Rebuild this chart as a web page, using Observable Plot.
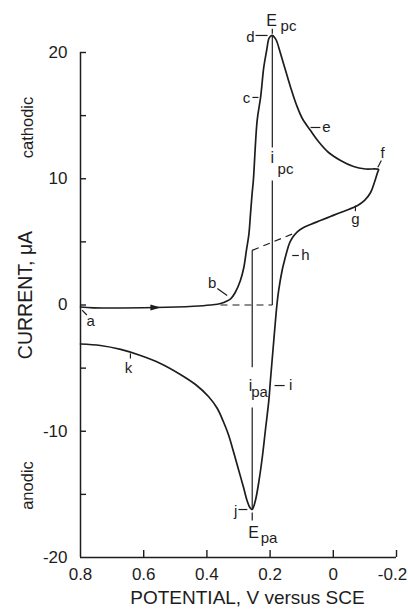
<!DOCTYPE html>
<html>
<head>
<meta charset="utf-8">
<script src="https://cdn.jsdelivr.net/npm/d3@7"></script>
<script src="https://cdn.jsdelivr.net/npm/@observablehq/plot@0.6"></script>
<style>
  html, body { margin: 0; padding: 0; background: #fff; }
  #chart svg { display: block; }
</style>
</head>
<body>
<div id="chart"></div>
<script>
// Cyclic voltammogram: forward (cathodic) scan from +0.8 V to the switching potential,
// then the return (anodic) scan back to +0.8 V.
const forwardPotential = [0.8, 0.759, 0.563, 0.442, 0.389, 0.357, 0.325, 0.310, 0.294, 0.283,
  0.275, 0.267, 0.262, 0.257, 0.253, 0.241, 0.230, 0.220, 0.211, 0.204,
  0.199, 0.193, 0.186, 0.180, 0.167, 0.151, 0.135, 0.117, 0.098, 0.072,
  0.047, 0.015, -0.023, -0.064, -0.102, -0.143];
const forwardCurrent = [-0.16, -0.22, -0.20, -0.10, 0.00, 0.12, 0.49, 1.01, 1.94, 2.99,
  4.32, 5.64, 7.22, 8.81, 9.86, 14.61, 16.46, 18.84, 20.16, 21.09,
  21.27, 21.35, 21.19, 20.95, 19.92, 18.57, 17.23, 15.88, 14.77, 13.82,
  12.95, 12.08, 11.45, 10.97, 10.77, 10.73];

const reversePotential = [-0.140, -0.130, -0.118, -0.099, -0.077, -0.048, -0.023, 0.009, 0.041, 0.072,
  0.094, 0.113, 0.129, 0.139, 0.146, 0.156, 0.162, 0.173, 0.178, 0.183,
  0.191, 0.199, 0.204, 0.215, 0.224, 0.235, 0.245, 0.253, 0.257, 0.264,
  0.273, 0.284, 0.300, 0.316, 0.332, 0.348, 0.367, 0.395, 0.436, 0.484,
  0.547, 0.610, 0.673, 0.737, 0.8];
const reverseCurrent = [10.50, 9.70, 8.91, 8.28, 7.88, 7.56, 7.33, 7.01, 6.69, 6.38,
  6.14, 5.82, 5.35, 4.87, 4.32, 3.37, 2.73, 1.14, 0.12, -1.23,
  -3.60, -5.98, -7.56, -9.94, -11.92, -13.90, -15.33, -16.04, -16.20, -16.04,
  -15.49, -14.46, -13.03, -11.60, -10.26, -9.23, -8.20, -7.25, -6.30, -5.50,
  -4.63, -4.00, -3.52, -3.21, -3.09];

// Axis ticks (the last potential label sits against the right edge)
const xTickLabels = [0.8, 0.6, 0.4, 0.2, 0];
const xEdgeLabel = [-0.2];
const xTickMarks = [0.6, 0.4, 0.2, 0, -0.2];
const yTickLabels = [20, 10, 0, -10, -20];
const yTickMarks = [20, 15, 10, 5, 0, -5, -10, -15];

// Scan direction arrow on the forward branch
const arrowPotential = [0.563];
const arrowCurrent = [-0.20];

// Lettered points along the curve and their leader lines
const letters = ["a", "b", "c", "d", "e", "f", "g", "h", "i", "j", "k"];
const letterPotential = [0.768, 0.383, 0.275, 0.262, 0.022, -0.156, -0.070, 0.088, 0.135, 0.309, 0.648];
const letterCurrent = [-1.31, 1.70, 16.36, 21.2, 14.06, 12.0, 6.8, 3.92, -6.38, -16.36, -5.03];
const leaderPotential1 = [0.795, 0.367, 0.256, 0.246, 0.072, -0.141, -0.070, 0.130, 0.186, 0.300, 0.642];
const leaderCurrent1 = [-0.40, 1.31, 16.44, 21.35, 14.06, 10.91, 7.88, 3.92, -6.38, -16.2, -3.84];
const leaderPotential2 = [0.780, 0.336, 0.237, 0.208, 0.041, -0.152, -0.070, 0.109, 0.154, 0.272, 0.642];
const leaderCurrent2 = [-0.79, 0.75, 16.44, 21.35, 14.06, 11.44, 7.43, 3.92, -6.38, -16.2, -4.24];

// Peak potentials and peak currents: main symbol plus subscript
const peakSymbols = ["E", "E", "i", "i"];
const peakSymbolPotential = [0.1956, 0.2525, 0.193, 0.262];
const peakSymbolCurrent = [22.5, -18.02, 11.68, -6.42];
const peakSubscripts = ["pc", "pa", "pc", "pa"];
const peakSubPotential = [0.1418, 0.2035, 0.1513, 0.2335];
const peakSubCurrent = [22.06, -18.46, 10.73, -6.92];

// Short marks at the two peak potentials
const peakTickPotential = [0.193, 0.2566];
const peakTickTop = [21.88, -16.44];
const peakTickBottom = [21.48, -17.07];

// Peak-current construction lines (solid, broken around their labels)
const ipLinePotential = [0.193, 0.193, 0.2566, 0.2566];
const ipLineTop = [21.35, 9.86, 4.33, -8.12];
const ipLineBottom = [12.48, 0, -4.93, -16.15];

// Extrapolated baselines (dashed)
const basePotential1 = [0.357, 0.2566];
const baseCurrent1 = [0, 4.33];
const basePotential2 = [0.193, 0.115];
const baseCurrent2 = [0, 5.77];

const ink = "#1d1d1d";
const font = "'Liberation Sans', Arial, Helvetica, sans-serif";

const scan = [
  ...forwardPotential.map((v, k) => ({v, i: forwardCurrent[k]})),
  ...reversePotential.map((v, k) => ({v, i: reverseCurrent[k]}))
];
const labelRows = letters.map((t, k) => ({t, v: letterPotential[k], i: letterCurrent[k]}));
const leaderRows = letters.map((t, k) => ({
  v1: leaderPotential1[k], i1: leaderCurrent1[k], v2: leaderPotential2[k], i2: leaderCurrent2[k]
}));
const symbolRows = peakSymbols.map((t, k) => ({t, v: peakSymbolPotential[k], i: peakSymbolCurrent[k]}));
const subRows = peakSubscripts.map((t, k) => ({t, v: peakSubPotential[k], i: peakSubCurrent[k]}));
const peakTickRows = peakTickPotential.map((v, k) => ({v, i1: peakTickTop[k], i2: peakTickBottom[k]}));
const ipRows = ipLinePotential.map((v, k) => ({v, i1: ipLineTop[k], i2: ipLineBottom[k]}));
const baseRows = basePotential1.map((v, k) => ({
  v1: v, i1: baseCurrent1[k], v2: basePotential2[k], i2: baseCurrent2[k]
}));

// Elongated filled arrowhead pointing in the scan direction (screen +x)
const arrowHead = {
  draw(context) {
    context.moveTo(5.5, 0);
    context.lineTo(-5, -2.9);
    context.lineTo(-5, 2.9);
    context.closePath();
  }
};

const centered = {textAnchor: "middle", lineAnchor: "middle", fill: ink};

const chart = Plot.plot({
  width: 408,
  height: 609,
  marginLeft: 80,
  marginRight: 12,
  marginTop: 52,
  marginBottom: 52,
  style: {fontFamily: font, color: ink, background: "#fff"},
  x: {domain: [0.8, -0.2]},
  y: {domain: [-20, 20]},
  marks: [
    // frame: left and bottom spines with inward ticks
    Plot.ruleX([0.8], {stroke: ink, strokeWidth: 1.5}),
    Plot.ruleY([-20], {stroke: ink, strokeWidth: 1.5}),
    Plot.tickY(yTickMarks, {y: d => d, stroke: ink, strokeWidth: 1.4, insetRight: 310}),
    Plot.tickX(xTickMarks, {x: d => d, stroke: ink, strokeWidth: 1.4, insetTop: 498}),
    Plot.axisY(yTickLabels, {tickSize: 0, tickPadding: 13, fontSize: 17, label: null,
      tickFormat: d => String(d), fill: ink}),
    Plot.axisX(xTickLabels, {tickSize: 0, tickPadding: 10, fontSize: 17, label: null,
      tickFormat: d => String(d), fill: ink}),
    Plot.axisX(xEdgeLabel, {tickSize: 0, tickPadding: 10, fontSize: 17, label: null,
      tickFormat: d => String(d), fill: ink, dx: -4}),

    // axis titles
    Plot.text(["POTENTIAL, V versus SCE"], {frameAnchor: "bottom", dx: 9, dy: 40,
      fontSize: 19, ...centered}),
    Plot.text(["CURRENT, \u03bcA"], {frameAnchor: "left", rotate: -90, dx: -54.5, dy: -10,
      fontSize: 19.5, ...centered}),
    Plot.text(["cathodic"], {frameAnchor: "left", rotate: -90, dx: -53, dy: -177.5,
      fontSize: 16.5, ...centered}),
    Plot.text(["anodic"], {frameAnchor: "left", rotate: -90, dx: -53, dy: 180.5,
      fontSize: 16.5, ...centered}),

    // construction lines
    Plot.link(baseRows, {x1: "v1", y1: "i1", x2: "v2", y2: "i2", stroke: ink,
      strokeWidth: 1.2, strokeDasharray: "7,5"}),
    Plot.link(ipRows, {x1: "v", y1: "i1", x2: "v", y2: "i2", stroke: ink, strokeWidth: 1.2}),
    Plot.link(peakTickRows, {x1: "v", y1: "i1", x2: "v", y2: "i2", stroke: ink, strokeWidth: 1.2}),

    // the voltammogram
    Plot.line(scan, {x: "v", y: "i", curve: "catmull-rom", stroke: ink, strokeWidth: 1.7}),
    Plot.dot(arrowPotential.map((v, k) => ({v, i: arrowCurrent[k]})),
      {x: "v", y: "i", symbol: arrowHead, fill: ink, stroke: "none"}),

    // lettered points
    Plot.link(leaderRows, {x1: "v1", y1: "i1", x2: "v2", y2: "i2", stroke: ink, strokeWidth: 1.2}),
    Plot.text(labelRows, {x: "v", y: "i", text: "t", fontSize: 15, ...centered}),
    Plot.text(symbolRows, {x: "v", y: "i", text: "t", fontSize: 16, ...centered}),
    Plot.text(subRows, {x: "v", y: "i", text: "t", fontSize: 15, ...centered})
  ]
});

document.getElementById("chart").append(chart);
</script>
</body>
</html>
